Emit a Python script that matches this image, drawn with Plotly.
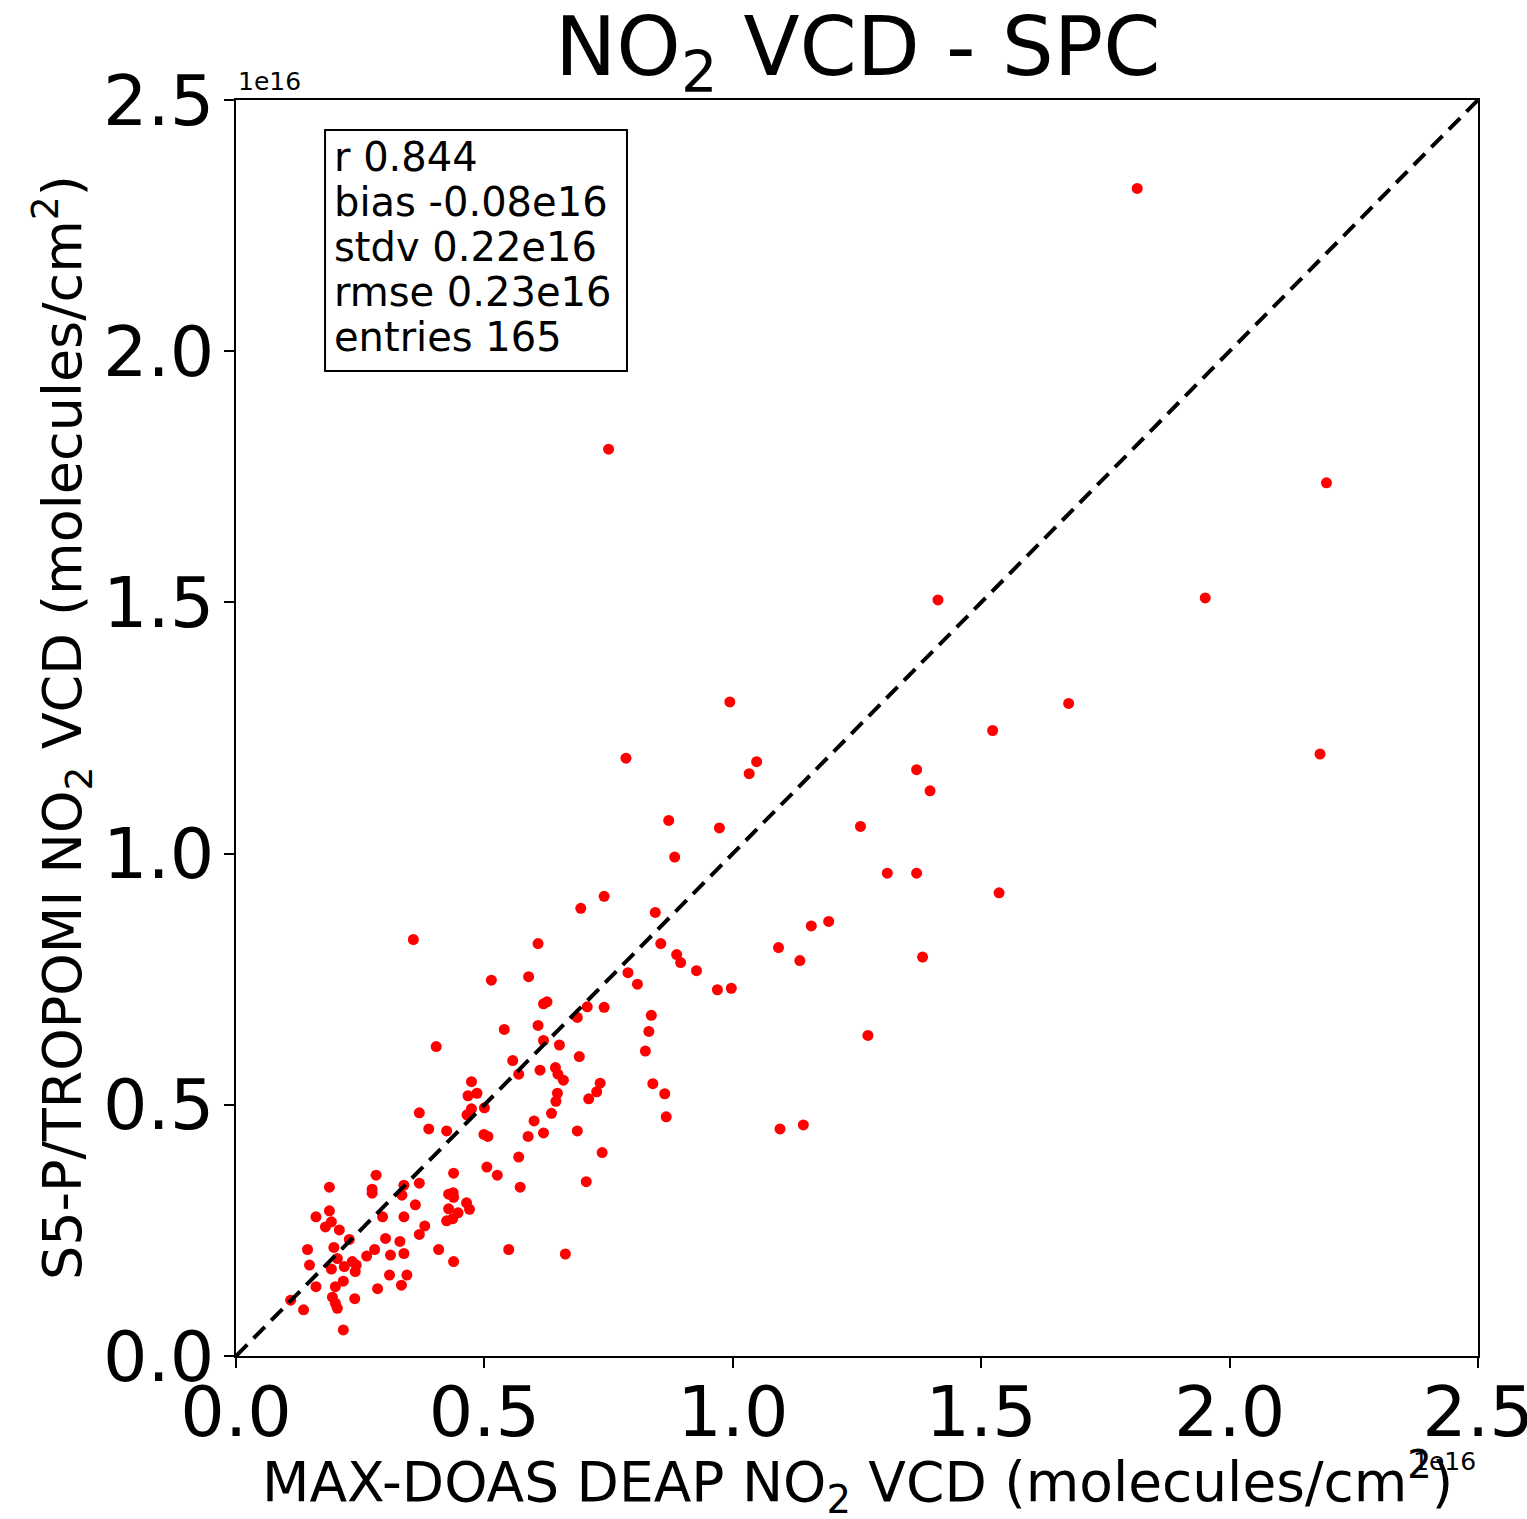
import plotly.graph_objects as go

# MAX-DOAS DEAP NO2 VCD (x) vs S5-P/TROPOMI NO2 VCD (y), units of 1e16 molecules/cm2
maxdoas = [
    0.569, 0.505, 0.526, 0.572, 0.705, 0.282, 0.438, 0.188, 0.274, 0.274,
    0.338, 0.334, 0.369, 0.361, 0.428, 0.437, 0.438, 0.464, 0.470, 0.428,
    0.447, 0.424, 0.436, 0.188, 0.161, 0.192, 0.180, 0.208, 0.295, 0.338,
    0.380, 0.369, 0.228, 0.301, 0.330, 0.144, 0.197, 0.279, 0.263, 0.311,
    0.338, 0.408, 0.549, 0.663, 0.204, 0.148, 0.234, 0.242, 0.218, 0.192,
    0.240, 0.438, 0.309, 0.344, 0.216, 0.161, 0.200, 0.333, 0.285, 0.110,
    0.194, 0.200, 0.204, 0.239, 0.136, 0.216,
    0.619, 0.626, 0.707, 0.741, 0.836, 0.831, 0.824, 0.687, 0.540, 0.608,
    0.619, 0.651, 0.403, 0.691, 0.557, 0.612, 0.569, 0.643, 0.648, 0.659,
    0.733, 0.726, 0.710, 0.839, 0.863, 0.866, 0.474, 0.467, 0.485, 0.647,
    0.644, 0.500, 0.474, 0.465, 0.369, 0.635, 0.388, 0.424, 0.600, 0.499,
    0.507, 0.588, 0.619, 0.687, 0.737,
    0.741, 0.694, 0.844, 0.608, 0.855, 1.092, 1.135, 0.887, 0.895, 0.927,
    0.789, 0.808, 0.514, 0.589, 0.969, 0.997, 1.095, 1.142,
    0.750, 1.814, 2.195, 1.413, 1.951, 0.994, 1.676, 1.523, 2.182, 0.785,
    1.048, 1.033, 1.370, 1.397, 0.871, 1.257, 0.973, 0.883, 1.311, 1.370,
    1.536, 1.193, 1.158, 0.357, 1.382, 1.272,
]
tropomi = [
    0.396, 0.376, 0.360, 0.336, 0.347, 0.360, 0.364, 0.336, 0.332, 0.324,
    0.340, 0.320, 0.344, 0.301, 0.322, 0.325, 0.316, 0.305, 0.292, 0.293,
    0.285, 0.269, 0.273, 0.289, 0.277, 0.267, 0.257, 0.251, 0.277, 0.277,
    0.259, 0.242, 0.232, 0.234, 0.228, 0.212, 0.216, 0.212, 0.199, 0.201,
    0.204, 0.212, 0.212, 0.203, 0.194, 0.181, 0.188, 0.181, 0.178, 0.173,
    0.168, 0.188, 0.161, 0.161, 0.149, 0.138, 0.138, 0.141, 0.134, 0.111,
    0.117, 0.105, 0.095, 0.114, 0.092, 0.052,
    0.701, 0.705, 0.695, 0.694, 0.678, 0.646, 0.607, 0.674, 0.650, 0.658,
    0.628, 0.619, 0.616, 0.596, 0.588, 0.569, 0.561, 0.574, 0.561, 0.549,
    0.543, 0.526, 0.512, 0.542, 0.522, 0.476, 0.546, 0.518, 0.523, 0.523,
    0.507, 0.494, 0.492, 0.480, 0.484, 0.483, 0.452, 0.448, 0.468, 0.441,
    0.437, 0.437, 0.444, 0.448, 0.405,
    0.915, 0.891, 0.883, 0.821, 0.821, 0.813, 0.787, 0.799, 0.783, 0.767,
    0.763, 0.740, 0.748, 0.755, 0.729, 0.732, 0.452, 0.460,
    1.805, 2.324, 1.738, 1.505, 1.509, 1.302, 1.299, 1.245, 1.198, 1.190,
    1.183, 1.159, 1.167, 1.125, 1.066, 1.054, 1.051, 0.993, 0.961, 0.961,
    0.922, 0.865, 0.856, 0.829, 0.794, 0.638,
]

ticks = [0.0, 0.5, 1.0, 1.5, 2.0, 2.5]
tick_labels = ["0.0", "0.5", "1.0", "1.5", "2.0", "2.5"]
one_to_one = [0.0, 2.5]

stats_lines = ["r 0.844", "bias -0.08e16", "stdv 0.22e16", "rmse 0.23e16", "entries 165"]

FONT = "DejaVu Sans"

fig = go.Figure()
fig.add_trace(go.Scatter(
    x=maxdoas, y=tropomi, mode="markers",
    marker=dict(color="#ff0000", size=11, line=dict(width=0)),
    showlegend=False, hoverinfo="skip",
))
fig.add_trace(go.Scatter(
    x=one_to_one, y=one_to_one, mode="lines",
    line=dict(color="black", width=4, dash="16px,9px"),
    showlegend=False, hoverinfo="skip",
))

axis_common = dict(
    range=[0, 2.5], tickvals=ticks, ticktext=tick_labels,
    showgrid=False, zeroline=False, showline=True, linecolor="black",
    linewidth=1.5, mirror=True, ticks="outside", ticklen=10, tickwidth=1.5,
    tickcolor="black", tickfont=dict(family=FONT, size=70, color="black"),
    ticklabeloverflow="allow",
)

# stats box geometry (paper coords)
box_x0, box_x1 = 0.0717, 0.3148
box_y0, box_y1 = 0.7842, 0.9761
line_x = 0.0775
line_y_top = 0.9546
line_step = 0.03583

annotations = [
    dict(text="NO<sub>2</sub> VCD - SPC", x=0.5, y=1.0, xref="paper", yref="paper",
         xanchor="center", yanchor="bottom", yshift=-8, showarrow=False,
         font=dict(family=FONT, size=82, color="black")),
    dict(text="MAX-DOAS DEAP NO<sub>2</sub> VCD (molecules/cm<sup>2</sup>)",
         x=0.5, y=-0.100, xref="paper", yref="paper",
         xanchor="center", yanchor="middle", showarrow=False,
         font=dict(family=FONT, size=55, color="black")),
    dict(text="S5-P/TROPOMI NO<sub>2</sub> VCD (molecules/cm<sup>2</sup>)",
         x=-0.140, y=0.50, xref="paper", yref="paper", textangle=-90,
         xanchor="center", yanchor="middle", showarrow=False,
         font=dict(family=FONT, size=54, color="black")),
    dict(text="1e16", x=0.0, y=1.0, xref="paper", yref="paper",
         xanchor="left", yanchor="bottom", yshift=2, showarrow=False,
         font=dict(family=FONT, size=25, color="black")),
    dict(text="1e16", x=1.0, y=-0.084, xref="paper", yref="paper",
         xanchor="right", yanchor="middle", showarrow=False,
         font=dict(family=FONT, size=25, color="black")),
]
for i, line in enumerate(stats_lines):
    annotations.append(dict(
        text=line, x=line_x, y=line_y_top - i * line_step, xref="paper", yref="paper",
        xanchor="left", yanchor="middle", showarrow=False,
        font=dict(family=FONT, size=40, color="black")))

fig.update_layout(
    width=1527, height=1519,
    margin=dict(l=236, r=49, t=100, b=163, autoexpand=False),
    paper_bgcolor="white", plot_bgcolor="white",
    xaxis={**axis_common, "ticklabelstandoff": -16},
    yaxis={**axis_common, "ticklabelstandoff": -4},
    font=dict(family=FONT, color="black"),
    annotations=annotations,
    shapes=[dict(type="rect", xref="paper", yref="paper",
                 x0=box_x0, x1=box_x1, y0=box_y0, y1=box_y1,
                 line=dict(color="black", width=2), fillcolor="rgba(0,0,0,0)")],
)

fig.write_html("out.html")
